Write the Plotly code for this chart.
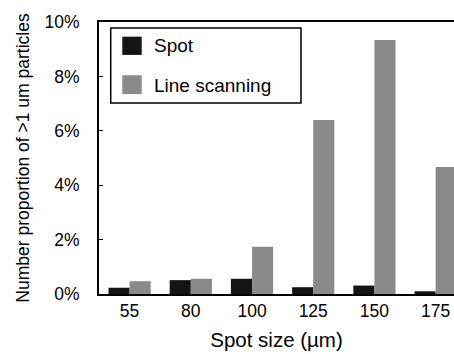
import plotly.graph_objects as go

categories = ["55", "80", "100", "125", "150", "175"]
series_names = ["Spot", "Line scanning"]
spot_values = [0.0023, 0.0051, 0.0056, 0.0025, 0.0031, 0.0010]
line_values = [0.0047, 0.0056, 0.0174, 0.0640, 0.0934, 0.0467]
y_ticks = [0, 0.02, 0.04, 0.06, 0.08, 0.10]
y_ticklabels = ["0%", "2%", "4%", "6%", "8%", "10%"]

colors = ["#141414", "#8a8a8a"]
FONT = "Liberation Sans, Arial, Helvetica, sans-serif"

fig = go.Figure()
for name, vals, col in zip(series_names, [spot_values, line_values], colors):
    fig.add_trace(go.Bar(x=categories, y=vals, name=name, marker_color=col,
                         marker_line_width=0, showlegend=False))

# manual legend (box, swatches, labels)
shapes = [dict(type="rect", xref="paper", yref="paper", x0=0.033, x1=0.569, y0=0.702, y1=0.978,
               line=dict(color="black", width=1.5), fillcolor="white")]
annotations = []
sw_y = [(0.879, 0.946), (0.735, 0.804)]
txt_y = [0.912, 0.768]
for i, name in enumerate(series_names):
    shapes.append(dict(type="rect", xref="paper", yref="paper", x0=0.0656, x1=0.1203,
                       y0=sw_y[i][0], y1=sw_y[i][1], line=dict(width=0), fillcolor=colors[i]))
    annotations.append(dict(xref="paper", yref="paper", x=0.150, y=txt_y[i], text=name,
                            showarrow=False, xanchor="left", yanchor="middle",
                            font=dict(size=19, color="black", family=FONT)))

fig.update_layout(
    width=454, height=354,
    margin=dict(l=99, r=0, t=22, b=60),
    paper_bgcolor="white", plot_bgcolor="white",
    barmode="group", bargap=0.31, bargroupgap=0,
    font=dict(family=FONT, size=17.5, color="black"),
    shapes=shapes, annotations=annotations,
    xaxis=dict(range=[-0.5, 5.30], showline=True, linecolor="black", linewidth=2, mirror=True,
               ticks="", showgrid=False, zeroline=False,
               title=dict(text="Spot size (µm)", font=dict(size=20.5), standoff=13),
               tickfont=dict(size=17.5)),
    yaxis=dict(range=[0, 0.1], tickvals=y_ticks, ticktext=y_ticklabels,
               showline=True, linecolor="black", linewidth=2, mirror=False,
               ticks="inside", ticklen=4, tickwidth=1, tickcolor="black",
               ticklabelstandoff=14,
               showgrid=False, zeroline=False, tickfont=dict(size=17.5),
               title=dict(text="Number proportion of >1 um particles", font=dict(size=17.5), standoff=10)),
)

fig.write_html("out.html")
